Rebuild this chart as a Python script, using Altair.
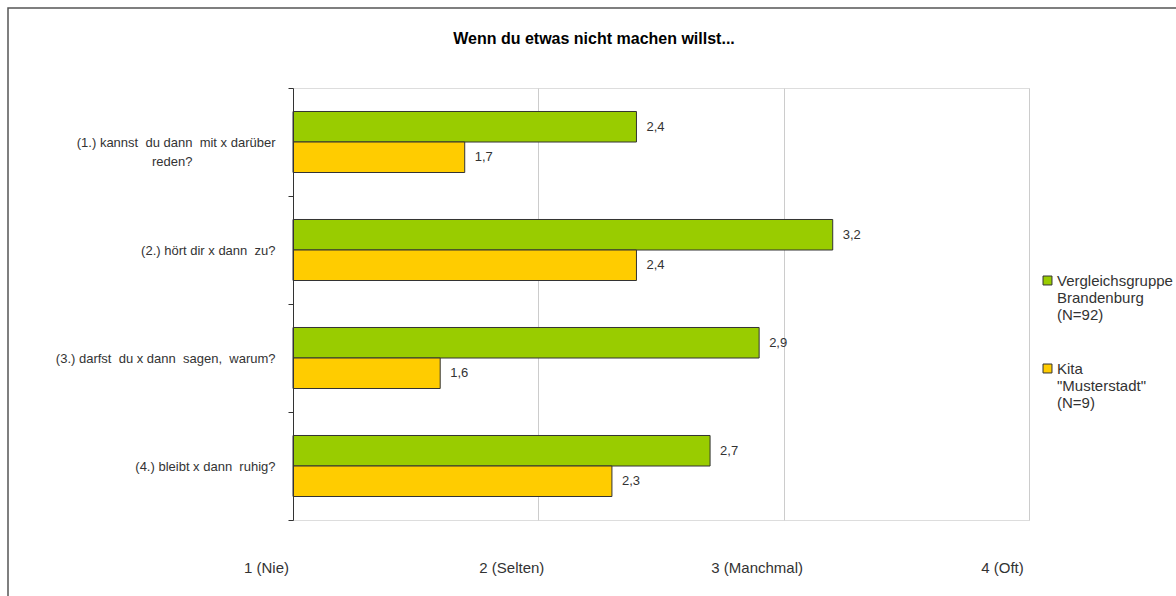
import altair as alt
import pandas as pd

FONT = "Liberation Sans, Arial, sans-serif"
NB = "\u00a0"

chart_title = "Wenn du etwas nicht machen willst..."
questions = [
    f"(1.) kannst {NB}du dann {NB}mit x darüber|reden?" + NB * 23 + "\u200b",
    f"(2.) hört dir x dann {NB}zu?",
    f"(3.) darfst {NB}du x dann {NB}sagen, {NB}warum?",
    f"(4.) bleibt x dann {NB}ruhig?",
]
series = ["Vergleichsgruppe|Brandenburg|(N=92)", "Kita|\"Musterstadt\"|(N=9)"]
vergleich = [2.4, 3.2, 2.9, 2.7]
kita = [1.7, 2.4, 1.6, 2.3]
x_ticks = [1, 2, 3, 4]
x_labels = ["1 (Nie)", "2 (Selten)", "3 (Manchmal)", "4 (Oft)"]
colors = ["#99CC00", "#FFCC00"]

rows = []
for q, v in zip(questions, vergleich):
    rows.append({"question": q, "series": series[0], "value": v})
for q, v in zip(questions, kita):
    rows.append({"question": q, "series": series[1], "value": v})
df = pd.DataFrame(rows)

label_map = "{" + ",".join(f"'{t}':'{l}'" for t, l in zip(x_ticks, x_labels)) + "}"

y_enc = alt.Y(
    "question:N",
    sort=questions,
    title=None,
    scale=alt.Scale(paddingInner=0, paddingOuter=0),
    axis=alt.Axis(
        labelExpr="split(datum.label, '|')",
        labelAlign="right",
        labelPadding=13,
        labelFontSize=13,
        labelLineHeight=19,
        labelLimit=400,
        labelColor="#333333",
        labelFont=FONT,
        tickBand="extent",
        tickSize=5,
        tickColor="#333333",
        domainColor="#333333",
        zindex=2,
    ),
)
yoff = alt.YOffset("series:N", sort=series, scale=alt.Scale(paddingOuter=0.77, paddingInner=0))

x_enc = alt.X(
    "value:Q",
    title=None,
    scale=alt.Scale(domain=[1, 4], nice=False, zero=False),
    axis=alt.Axis(
        values=x_ticks,
        labelExpr=f"{label_map}[datum.value]",
        grid=True,
        gridColor="#cccccc",
        domain=False,
        ticks=False,
        labelPadding=40,
        labelOffset=-27,
        labelFontSize=15,
        labelColor="#333333",
        labelFont=FONT,
        labelAlign="center",
    ),
)

bars = alt.Chart(df).mark_bar(stroke="#333333", strokeWidth=1).encode(
    x=x_enc,
    x2=alt.datum(x_ticks[0]),
    y=y_enc,
    yOffset=yoff,
    color=alt.Color(
        "series:N",
        sort=series,
        scale=alt.Scale(domain=series, range=colors),
        legend=alt.Legend(
            title=None,
            orient="none",
            legendX=747,
            legendY=185,
            labelExpr="split(datum.label, '|')",
            labelFontSize=15,
            labelFont=FONT,
            labelColor="#333333",
            labelLimit=300,
            symbolType="square",
            symbolSize=80,
            symbolStrokeColor="#333333",
            symbolStrokeWidth=1,
            rowPadding=38,
            labelBaseline="middle",
            labelOffset=2,
        ),
    ),
)

texts = alt.Chart(df).transform_calculate(
    label="replace(format(datum.value, '.1f'), '.', ',')"
).mark_text(align="left", dx=10, fontSize=13, color="#333333", font=FONT).encode(
    x=alt.X("value:Q"),
    y=alt.Y("question:N", sort=questions),
    yOffset=yoff,
    text="label:N",
)

border = alt.Chart(pd.DataFrame({"a": [0]})).mark_rect(
    filled=False, stroke="#555555", strokeWidth=1.5
).encode(
    x=alt.value(-285), x2=alt.value(1300), y=alt.value(-80), y2=alt.value(700)
)

chart = alt.layer(bars, texts, border).properties(
    width=736,
    height=432,
    padding={"left": 293, "top": 88, "right": 147, "bottom": 76},
    autosize=alt.AutoSizeParams(type="none"),
    title=alt.TitleParams(
        chart_title,
        anchor="middle",
        frame="group",
        dx=-67,
        offset=-40,
        fontSize=16,
        font=FONT,
        fontWeight="bold",
        color="#000000",
    ),
).configure_view(stroke="#c0c0c0", strokeWidth=1).configure(background="white")

chart.save("out.html", embed_options={"renderer": "svg", "actions": False})
